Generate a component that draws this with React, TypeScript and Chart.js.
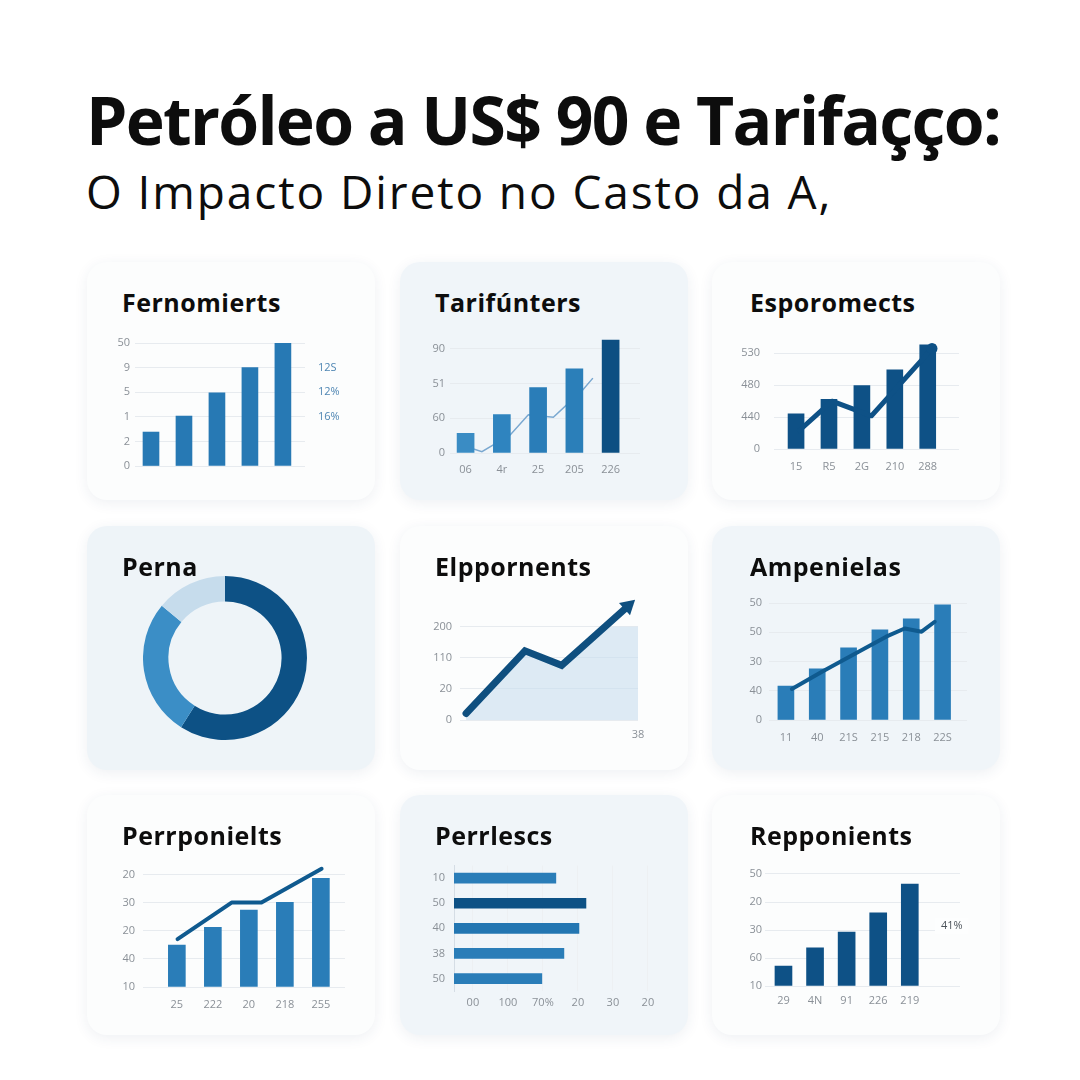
import React, { useEffect, useRef } from "react";
import { Chart, registerables } from "chart.js";
Chart.register(...registerables);

const GRID = "#e7ebef";
const TICK = "#8a9097";
const NAVY = "#0e5186";
const MID = "#2779b4";
const LINE_NAVY = "#0f5a8f";
const FONT = "'Open Sans', 'DejaVu Sans', sans-serif";

// ---------- Header ----------
const mainTitle = "Petróleo a US$ 90 e Tarifaçço:";
const subTitle = "O Impacto Direto no Casto da A,";

// ---------- Panel 1 ----------
const p1Title = "Fernomierts";
const p1Values = [1.38, 2.03, 2.97, 4.0, 5.0];
const p1YTicks = ["0", "2", "1", "5", "9", "50"];
const p1RightTicks = ["", "", "16%", "12%", "12S", ""];

// ---------- Panel 2 ----------
const p2Title = "Tarifúnters";
const p2Labels = ["06", "4r", "25", "205", "226"];
const p2Values = [0.57, 1.11, 1.89, 2.43, 3.26];
const p2Colors = ["#3a8cc4", "#2f84bf", "#2a7db8", "#2b7fb9", "#0d4f82"];
const p2YTicks = ["0", "60", "51", "90"];
const p2LineX = [0.03, 0.45, 1.23, 1.73, 2.42, 3.23, 3.51];
const p2LineY = [0.18, 0.04, 0.52, 1.1, 1.03, 1.82, 2.16];

// ---------- Panel 3 ----------
const p3Title = "Esporomects";
const p3Labels = ["15", "R5", "2G", "210", "288"];
const p3Values = [1.1, 1.56, 1.99, 2.48, 3.27];
const p3YTicks = ["0", "440", "480", "530"];
const p3LineX = [0.1, 1.09, 2.29, 4.13];
const p3LineY = [0.58, 1.5, 1.04, 3.15];

// ---------- Panel 4 ----------
const p4Title = "Perna";
const p4Values = [59, 27, 14];
const p4Colors = ["#0d5185", "#3b8ec6", "#c6dcec"];

// ---------- Panel 5 ----------
const p5Title = "Elppornents";
const p5YTicks = ["0", "20", "110", "200"];
const p5LineX = [0.34, 3.65, 5.71, 9.44];
const p5LineY = [0.21, 2.23, 1.76, 3.67];
const p5AreaX = [0.34, 3.65, 5.71, 8.15, 10];
const p5AreaY = [0.21, 2.23, 1.76, 3.0, 3.0];
const p5XLabel = "38";

// ---------- Panel 6 ----------
const p6Title = "Ampenielas";
const p6Labels = ["11", "40", "21S", "215", "218", "22S"];
const p6Values = [1.16, 1.75, 2.47, 3.08, 3.46, 3.94];
const p6YTicks = ["0", "40", "30", "50", "50"];
const p6LineX = [0.19, 1.15, 2.32, 3.2, 3.79, 4.33, 4.75];
const p6LineY = [1.06, 1.65, 2.33, 2.85, 3.13, 3.02, 3.36];

// ---------- Panel 7 ----------
const p7Title = "Perrponielts";
const p7Labels = ["25", "222", "20", "218", "255"];
const p7Values = [1.49, 2.12, 2.73, 3.01, 3.86];
const p7YTicks = ["10", "40", "20", "30", "20"];
const p7LineX = [0.02, 1.52, 2.35, 4.02];
const p7LineY = [1.7, 3.0, 3.0, 4.2];

// ---------- Panel 8 ----------
const p8Title = "Perrlescs";
const p8Labels = ["10", "50", "40", "38", "50"];
const p8Values = [2.91, 3.77, 3.57, 3.14, 2.51];
const p8Colors = ["#2a7db8", "#0d5185", "#2376b2", "#2a7db8", "#2a7db8"];
const p8XLabels = ["00", "100", "70%", "20", "30", "20"];
const p8XTickValues = [0.54, 1.54, 2.54, 3.54, 4.54, 5.54];

// ---------- Panel 9 ----------
const p9Title = "Repponients";
const p9Labels = ["29", "4N", "91", "226", "219"];
const p9Values = [0.71, 1.36, 1.93, 2.61, 3.64];
const p9YTicks = ["10", "60", "30", "20", "50"];
const p9Note = "41%";
const p9NoteX = 5.33;
const p9NoteY = 2.14;

type Rect = { x: number; y: number; w: number; h: number };

const setTicks = (vals: number[]) => (axis: any) => {
  axis.ticks = vals.map((v) => ({ value: v }));
};
const idx = (arr: any[]) => arr.map((_, i) => i);
const pts = (xs: number[], ys: number[]) => xs.map((x, i) => ({ x, y: ys[i] }));
const barPts = (vals: number[]) => vals.map((v, i) => ({ x: i, y: v }));

function yAxis(labels: string[], max: number, width: number, pad: number) {
  return {
    type: "linear",
    position: "left",
    min: 0,
    max,
    afterBuildTicks: setTicks(idx(labels)),
    afterFit: (s: any) => {
      s.width = width;
    },
    grid: { color: GRID, drawTicks: false, lineWidth: 1 },
    border: { display: false },
    ticks: {
      padding: pad,
      color: TICK,
      autoSkip: false,
      font: { family: FONT, size: 11 },
      callback: (_v: any, i: number) => labels[i],
    },
  };
}

function xAxis(labels: string[], positions: number[], min: number, max: number, height: number, pad: number) {
  return {
    type: "linear",
    position: "bottom",
    min,
    max,
    offset: false,
    afterBuildTicks: setTicks(positions),
    afterFit: (s: any) => {
      s.height = height;
    },
    grid: { display: false, offset: false, drawTicks: false },
    border: { display: false },
    ticks: {
      padding: pad,
      color: TICK,
      autoSkip: false,
      maxRotation: 0,
      font: { family: FONT, size: 11 },
      callback: (_v: any, i: number) => labels[i],
    },
  };
}

const base = (pad: any) => ({
  responsive: false,
  animation: false,
  events: [],
  layout: { padding: pad },
  plugins: { legend: { display: false }, tooltip: { enabled: false } },
});

// ---------- Configs ----------
const p1Rect: Rect = { x: 87, y: 320, w: 288, h: 170 };
const p1Config = () => ({
  type: "bar",
  data: {
    datasets: [{ data: barPts(p1Values), backgroundColor: MID, barThickness: 16, yAxisID: "y" }],
  },
  options: {
    ...base({ top: 23, left: 0, right: 0, bottom: 24 }),
    scales: {
      x: { ...xAxis([], [], -0.485, 4.67, 0, 0), display: false },
      y: yAxis(p1YTicks, 5, 48, 5),
      y2: {
        type: "linear",
        position: "right",
        min: 0,
        max: 5,
        afterBuildTicks: setTicks(idx(p1RightTicks)),
        afterFit: (s: any) => {
          s.width = 70;
        },
        grid: { display: false, drawTicks: false },
        border: { display: false },
        ticks: {
          padding: 13,
          color: "#4f86b3",
          autoSkip: false,
          font: { family: FONT, size: 11 },
          callback: (_v: any, i: number) => p1RightTicks[i],
        },
      },
    },
  },
});

const p2Rect: Rect = { x: 400, y: 320, w: 288, h: 170 };
const p2Config = () => ({
  type: "bar",
  data: {
    datasets: [
      { data: barPts(p2Values), backgroundColor: p2Colors, barThickness: 17, order: 1 },
      {
        type: "line",
        data: pts(p2LineX, p2LineY),
        borderColor: "#7aa8d0",
        borderWidth: 1.5,
        pointRadius: 0,
        fill: false,
        order: 2,
      },
    ],
  },
  options: {
    ...base({ top: 18.6, left: 0, right: 48, bottom: 0 }),
    scales: {
      x: xAxis(p2Labels, idx(p2Labels), -0.43, 4.81, 37, 10),
      y: yAxis(p2YTicks, 3.3, 50, 5),
    },
  },
});

const p3Rect: Rect = { x: 712, y: 320, w: 288, h: 170 };
const p3Config = () => ({
  type: "bar",
  data: {
    datasets: [
      { data: barPts(p3Values), backgroundColor: NAVY, barThickness: 16, order: 2 },
      {
        type: "line",
        data: pts(p3LineX, p3LineY),
        borderColor: NAVY,
        borderWidth: 5,
        borderCapStyle: "round",
        borderJoinStyle: "round",
        pointRadius: [0, 0, 0, 5.5],
        pointBackgroundColor: NAVY,
        pointBorderWidth: 0,
        fill: false,
        order: 1,
      },
    ],
  },
  options: {
    ...base({ top: 17.8, left: 0, right: 41, bottom: 0 }),
    scales: {
      x: xAxis(p3Labels, idx(p3Labels), -0.67, 4.95, 41, 11),
      y: yAxis(p3YTicks, 3.4, 62, 14),
    },
  },
});

const p4Rect: Rect = { x: 143, y: 576, w: 164, h: 164 };
const p4Config = () => ({
  type: "doughnut",
  data: {
    labels: ["a", "b", "c"],
    datasets: [{ data: p4Values, backgroundColor: p4Colors, borderWidth: 0 }],
  },
  options: {
    ...base(0),
    cutout: "69%",
  },
});

const p5Rect: Rect = { x: 400, y: 575, w: 288, h: 180 };
const p5Config = () => ({
  type: "line",
  data: {
    datasets: [
      {
        data: pts(p5LineX, p5LineY),
        borderColor: "#0f4f7f",
        borderWidth: 7,
        borderCapStyle: "round",
        borderJoinStyle: "miter",
        pointRadius: [0, 0, 0, 9.5],
        pointStyle: "triangle",
        pointRotation: 48,
        pointBackgroundColor: "#0f4f7f",
        pointBorderWidth: 0,
        fill: false,
        order: 1,
      },
      {
        data: pts(p5AreaX, p5AreaY),
        borderWidth: 0,
        pointRadius: 0,
        backgroundColor: "rgba(200,221,238,0.6)",
        fill: "origin",
        order: 2,
      },
    ],
  },
  options: {
    ...base({ top: 13.4, left: 0, right: 50, bottom: 0 }),
    scales: {
      x: xAxis([p5XLabel], [10], 0, 10, 35, 8),
      y: yAxis(p5YTicks, 4.2, 60, 8),
    },
  },
});

const p6Rect: Rect = { x: 712, y: 585, w: 288, h: 170 };
const p6Config = () => ({
  type: "bar",
  data: {
    datasets: [
      { data: barPts(p6Values), backgroundColor: "#2a7db8", barThickness: 16, order: 2 },
      {
        type: "line",
        data: pts(p6LineX, p6LineY),
        borderColor: LINE_NAVY,
        borderWidth: 4,
        borderCapStyle: "round",
        borderJoinStyle: "round",
        pointRadius: 0,
        fill: false,
        order: 1,
      },
    ],
  },
  options: {
    ...base({ top: 15.1, left: 0, right: 33, bottom: 0 }),
    scales: {
      x: xAxis(p6Labels, idx(p6Labels), -0.54, 5.78, 35, 11),
      y: yAxis(p6YTicks, 4.1, 57, 7),
    },
  },
});

const p7Rect: Rect = { x: 87, y: 850, w: 288, h: 175 };
const p7Config = () => ({
  type: "bar",
  data: {
    datasets: [
      { data: barPts(p7Values), backgroundColor: "#2a7db8", barThickness: 17, order: 2 },
      {
        type: "line",
        data: pts(p7LineX, p7LineY),
        borderColor: LINE_NAVY,
        borderWidth: 4,
        borderCapStyle: "round",
        borderJoinStyle: "round",
        pointRadius: 0,
        fill: false,
        order: 1,
      },
    ],
  },
  options: {
    ...base({ top: 14.1, left: 0, right: 30, bottom: 0 }),
    scales: {
      x: xAxis(p7Labels, idx(p7Labels), -0.94, 4.67, 38, 11),
      y: yAxis(p7YTicks, 4.35, 56, 8),
    },
  },
});

const p8Rect: Rect = { x: 400, y: 850, w: 288, h: 175 };
const p8Config = () => ({
  type: "bar",
  data: {
    labels: p8Labels,
    datasets: [{ data: p8Values, backgroundColor: p8Colors, barThickness: 10 }],
  },
  options: {
    ...base({ top: 9.9, left: 0, right: 28, bottom: 0 }),
    indexAxis: "y",
    scales: {
      y: {
        type: "category",
        offset: true,
        afterFit: (s: any) => {
          s.width = 54;
        },
        grid: { display: false, drawTicks: false },
        border: { display: true, color: "#d5dde5", width: 1 },
        ticks: { padding: 9, color: TICK, autoSkip: false, font: { family: FONT, size: 11 } },
      },
      x: {
        type: "linear",
        min: 0,
        max: 5.886,
        offset: false,
        afterBuildTicks: setTicks(p8XTickValues),
        afterFit: (s: any) => {
          s.height = 33.9;
        },
        grid: { color: "#edf0f3", drawTicks: false },
        border: { display: false },
        ticks: {
          padding: 5,
          color: TICK,
          autoSkip: false,
          maxRotation: 0,
          font: { family: FONT, size: 11 },
          callback: (_v: any, i: number) => p8XLabels[i],
        },
      },
    },
  },
});

const noteP9 = {
  id: "noteP9",
  afterDatasetsDraw(chart: any) {
    const { ctx, scales } = chart;
    const px = scales.x.getPixelForValue(p9NoteX);
    const py = scales.y.getPixelForValue(p9NoteY);
    ctx.save();
    ctx.font = `11px ${FONT}`;
    const w = ctx.measureText(p9Note).width;
    ctx.fillStyle = "#fdfefe";
    ctx.fillRect(px - w / 2 - 6, py - 8, w + 12, 16);
    ctx.fillStyle = "#4d545b";
    ctx.textAlign = "center";
    ctx.textBaseline = "middle";
    ctx.fillText(p9Note, px, py);
    ctx.restore();
  },
};

const p9Rect: Rect = { x: 712, y: 850, w: 288, h: 175 };
const p9Config = () => ({
  type: "bar",
  data: {
    datasets: [{ data: barPts(p9Values), backgroundColor: NAVY, barThickness: 17 }],
  },
  options: {
    ...base({ top: 22.6, left: 0, right: 40, bottom: 0 }),
    scales: {
      x: xAxis(p9Labels, idx(p9Labels), -0.585, 5.59, 39, 8),
      y: yAxis(p9YTicks, 4.05, 53, 3),
    },
  },
  plugins: [noteP9],
});

// ---------- Components ----------
function ChartCanvas({ rect, config }: { rect: Rect; config: () => any }) {
  const ref = useRef<HTMLCanvasElement>(null);
  useEffect(() => {
    const c = new Chart(ref.current as HTMLCanvasElement, config());
    return () => c.destroy();
  }, []);
  return (
    <canvas
      ref={ref}
      width={rect.w}
      height={rect.h}
      style={{ position: "absolute", left: rect.x, top: rect.y, width: rect.w, height: rect.h, zIndex: 2 }}
    />
  );
}

const cards = [
  { x: 87, y: 262, h: 238, bg: "#fcfdfd", title: p1Title, tx: 122 },
  { x: 400, y: 262, h: 238, bg: "#f0f5f9", title: p2Title, tx: 435 },
  { x: 712, y: 262, h: 238, bg: "#fcfdfd", title: p3Title, tx: 750 },
  { x: 87, y: 526, h: 244, bg: "#eef4f8", title: p4Title, tx: 122 },
  { x: 400, y: 526, h: 244, bg: "#fcfdfd", title: p5Title, tx: 435 },
  { x: 712, y: 526, h: 244, bg: "#f0f5f9", title: p6Title, tx: 750 },
  { x: 87, y: 795, h: 240, bg: "#fcfdfd", title: p7Title, tx: 122 },
  { x: 400, y: 795, h: 240, bg: "#f0f5f9", title: p8Title, tx: 435 },
  { x: 712, y: 795, h: 240, bg: "#fcfdfd", title: p9Title, tx: 750 },
];

export default function App() {
  return (
    <div
      style={{
        position: "absolute",
        left: 0,
        top: 0,
        width: 1080,
        height: 1080,
        background: "#ffffff",
        overflow: "hidden",
        fontFamily: "'Open Sans', 'Noto Sans', sans-serif",
      }}
    >
      <div
        style={{
          position: "absolute",
          left: 86,
          top: 86,
          fontSize: 66,
          lineHeight: "66px",
          fontWeight: 700,
          letterSpacing: -1.7,
          color: "#0d0d0d",
          whiteSpace: "nowrap",
        }}
      >
        {mainTitle}
      </div>
      <div
        style={{
          position: "absolute",
          left: 86,
          top: 168,
          fontSize: 46,
          lineHeight: "46px",
          fontWeight: 400,
          letterSpacing: 1.9,
          color: "#0d0d0d",
          whiteSpace: "nowrap",
        }}
      >
        {subTitle}
      </div>
      {cards.map((c, i) => (
        <div key={i}>
          <div
            style={{
              position: "absolute",
              left: c.x,
              top: c.y,
              width: 288,
              height: c.h,
              borderRadius: 20,
              background: c.bg,
              boxShadow: "0 3px 14px rgba(40,70,100,0.08)",
            }}
          />
          <div
            style={{
              position: "absolute",
              left: c.tx,
              top: c.y + 25,
              fontSize: 25,
              lineHeight: "30px",
              fontWeight: 700,
              letterSpacing: 0.5,
              color: "#0d0d0d",
              whiteSpace: "nowrap",
              zIndex: 3,
            }}
          >
            {c.title}
          </div>
        </div>
      ))}
      <ChartCanvas rect={p1Rect} config={p1Config} />
      <ChartCanvas rect={p2Rect} config={p2Config} />
      <ChartCanvas rect={p3Rect} config={p3Config} />
      <ChartCanvas rect={p4Rect} config={p4Config} />
      <ChartCanvas rect={p5Rect} config={p5Config} />
      <ChartCanvas rect={p6Rect} config={p6Config} />
      <ChartCanvas rect={p7Rect} config={p7Config} />
      <ChartCanvas rect={p8Rect} config={p8Config} />
      <ChartCanvas rect={p9Rect} config={p9Config} />
    </div>
  );
}
